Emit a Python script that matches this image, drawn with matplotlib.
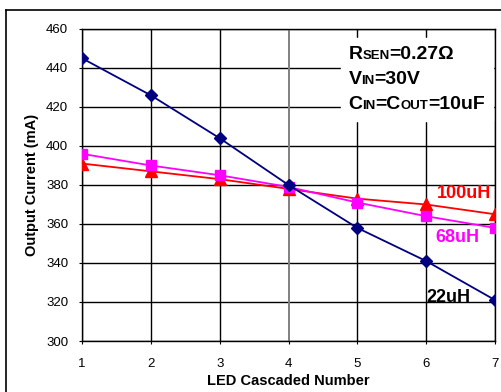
import matplotlib
matplotlib.use("Agg")
import matplotlib.pyplot as plt
from matplotlib.offsetbox import TextArea, HPacker, VPacker, AnchoredOffsetbox
from matplotlib.lines import Line2D

plt.rcParams["font.family"] = ["Liberation Sans", "DejaVu Sans"]

led_count = [1, 2, 3, 4, 5, 6, 7]
current_22uh = [445, 426, 404, 380, 358, 341, 321]
current_68uh = [396, 390, 385, 379, 371, 364, 358]
current_100uh = [391, 387, 383, 378, 373, 370, 365]
y_ticks = [300, 320, 340, 360, 380, 400, 420, 440, 460]

fig = plt.figure(figsize=(5.01, 3.92), dpi=100)
ax = fig.add_axes([82 / 501, 1 - 341 / 392, 413 / 501, 312 / 392])

# outer chart border (left and top edges visible in the picture)
fig.add_artist(Line2D([6 / 501, 6 / 501], [0, 1 - 10 / 392], color="black", lw=1.2,
                      transform=fig.transFigure))
fig.add_artist(Line2D([6 / 501, 1], [1 - 10 / 392, 1 - 10 / 392], color="black", lw=1.2,
                      transform=fig.transFigure))

ax.set_xlim(1, 7)
ax.set_ylim(300, 460)
ax.set_xticks(led_count)
ax.set_yticks(y_ticks)
for y in y_ticks:
    ax.axhline(y, color="black", lw=1.0, zorder=1)
for x in led_count:
    ax.axvline(x, color="#808080" if x == 4 else "black", lw=1.4 if x == 4 else 1.0, zorder=1)
for side in ax.spines.values():
    side.set_linewidth(1.0)

ax.plot(led_count, current_100uh, color="#FF0000", lw=1.3, marker="^", ms=8, zorder=3)
ax.plot(led_count, current_68uh, color="#FF00FF", lw=1.3, marker="s", ms=7, zorder=4)
ax.plot(led_count, current_22uh, color="#000080", lw=1.3, marker="D", ms=6, zorder=5)

ax.tick_params(axis="both", length=2, labelsize=9.5)
ax.tick_params(axis="x", pad=10)
ax.tick_params(axis="y", pad=8)
ax.set_xlabel("LED Cascaded Number", fontsize=10.5, fontweight="bold", labelpad=3)
ax.set_ylabel("Output Current (mA)", fontsize=10.5, fontweight="bold", labelpad=5)

ax.text(6.55, 375.5, "100uH", color="#FF0000", fontsize=13, fontweight="bold", ha="center", va="center")
ax.text(6.46, 353, "68uH", color="#FF00FF", fontsize=13, fontweight="bold", ha="center", va="center")
ax.text(6.32, 322.5, "22uH", color="black", fontsize=13, fontweight="bold", ha="center", va="center")


def row(parts):
    boxes = [TextArea(s, textprops=dict(fontsize=fs, fontweight="bold", color="black"))
             for s, fs in parts]
    return HPacker(children=boxes, align="baseline", pad=0, sep=0)


rows = [
    row([("R", 14), ("SEN", 9.5), ("=0.27Ω", 14)]),
    row([("V", 14), ("IN", 9.5), ("=30V", 14)]),
    row([("C", 14), ("IN", 9.5), ("=C", 14), ("OUT", 9.5), ("=10uF", 14)]),
]
pack = VPacker(children=rows, align="left", pad=0, sep=6)
box = AnchoredOffsetbox(loc="upper right", child=pack, pad=0.55, borderpad=0, frameon=True,
                        bbox_to_anchor=(493 / 501, 1 - 38 / 392), bbox_transform=fig.transFigure)
box.patch.set_edgecolor("white")
box.patch.set_facecolor("white")
box.zorder = 6
ax.add_artist(box)

fig.savefig("out.png", dpi=100)
